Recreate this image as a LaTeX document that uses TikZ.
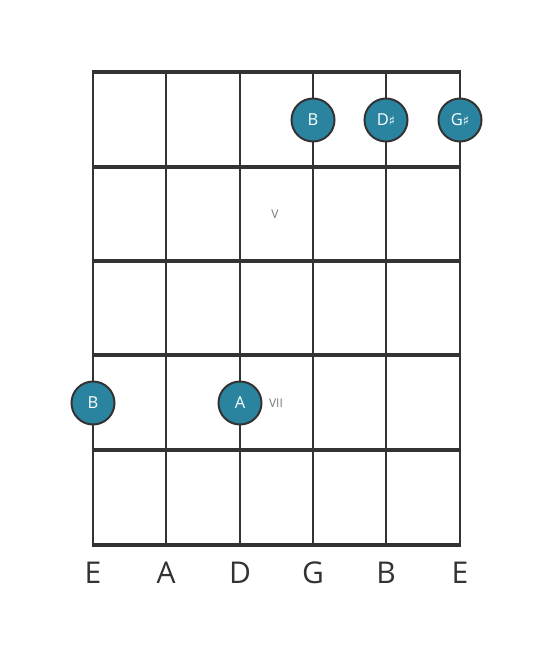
\documentclass[tikz,border=0pt]{standalone}
\usepackage{fontspec}
\setmainfont{Open Sans}
\newfontfamily\symfont{DejaVu Sans}
\newcommand{\shp}{{\symfont\fontsize{13}{13}\selectfont ♯}}
\definecolor{ink}{HTML}{333333}
\definecolor{teal}{HTML}{2A84A0}
\definecolor{soft}{HTML}{7A7A7A}
\begin{document}
\begin{tikzpicture}[x=1pt,y=-1pt,
  fret/.style={draw=ink,line width=4.2pt},
  str/.style={draw=ink,line width=2.6pt},
  dot/.style={circle,fill=teal,draw=ink,line width=2pt,minimum size=43pt,inner sep=0pt,text=white,font=\fontsize{16.5}{16.5}\selectfont},
  sname/.style={text=ink,font=\fontsize{30}{30}\selectfont,inner sep=0pt},
  fnum/.style={text=soft,font=\fontsize{12}{12}\selectfont,inner sep=0pt}]
\useasboundingbox (0,0) rectangle (553,656);
\foreach \i/\x in {1/93,2/166,3/240,4/313,5/386,6/460}{
  \coordinate (t\i) at (\x,72);
  \coordinate (b\i) at (\x,545);
  \draw[str] (t\i) -- (b\i);
}
\foreach \j/\y in {0/72,1/167,2/261,3/355,4/450,5/545}{
  \coordinate (l\j) at (93,\y);
  \coordinate (r\j) at (460,\y);
  \draw[fret] ([xshift=-1pt]l\j) -- ([xshift=1pt]r\j);
}
\node[dot] (n1) at (313,120) {B};
\node[dot] (n2) at (386,120) {D\shp};
\node[dot] (n3) at (460,120) {G\shp};
\node[dot] (n4) at (93,403) {B};
\node[dot] (n5) at (240,403) {A};
\node[fnum] (v5) at (275,214) {V};
\node[fnum] (v7) at (276,403) {VII};
\node[sname] (s1) at (93,573) {E};
\node[sname] (s2) at (166,573) {A};
\node[sname] (s3) at (240,573) {D};
\node[sname] (s4) at (313,573) {G};
\node[sname] (s5) at (386,573) {B};
\node[sname] (s6) at (460,573) {E};
\end{tikzpicture}
\end{document}
